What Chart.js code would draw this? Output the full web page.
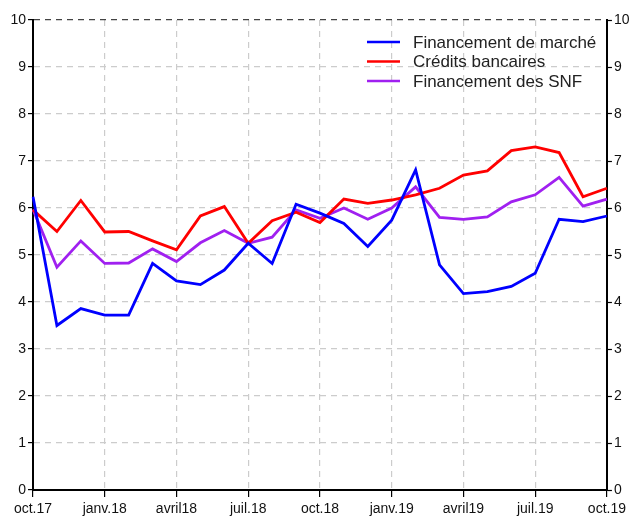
<!DOCTYPE html>
<html>
<head>
<meta charset="utf-8">
<script src="https://cdn.jsdelivr.net/npm/chart.js@4/dist/chart.umd.min.js"></script>
<style>
  html, body { margin: 0; padding: 0; background: #fff; }
  #wrap { width: 630px; height: 519px; }
</style>
</head>
<body>
<div id="wrap"><canvas id="myChart" width="630" height="519"></canvas></div>
<script>
// mois, oct.17 -> oct.19
var months = ["oct.17", "nov.17", "déc.17", "janv.18", "févr.18", "mars18", "avril18", "mai18", "juin18",
  "juil.18", "août18", "sept.18", "oct.18", "nov.18", "déc.18", "janv.19", "févr.19", "mars19",
  "avril19", "mai19", "juin19", "juil.19", "août19", "sept.19", "oct.19"];

var marche = [6.24, 3.50, 3.86, 3.72, 3.72, 4.82, 4.45, 4.37, 4.68, 5.25, 4.82, 6.08, 5.89,
  5.67, 5.18, 5.74, 6.81, 4.79, 4.18, 4.22, 4.33, 4.61, 5.76, 5.71, 5.83];
var credits = [5.96, 5.50, 6.16, 5.49, 5.50, 5.30, 5.11, 5.83, 6.03, 5.25, 5.73, 5.91, 5.69,
  6.19, 6.10, 6.17, 6.28, 6.42, 6.70, 6.79, 7.22, 7.30, 7.18, 6.24, 6.42];
var snf = [5.97, 4.74, 5.30, 4.82, 4.83, 5.13, 4.86, 5.26, 5.52, 5.25, 5.38, 5.96, 5.78,
  6.00, 5.76, 6.00, 6.45, 5.80, 5.76, 5.81, 6.13, 6.28, 6.65, 6.04, 6.19];

var yTicks = [0, 1, 2, 3, 4, 5, 6, 7, 8, 9, 10];

var FONT = "'Liberation Sans', Arial, sans-serif";

// legende dans le cadre, en haut a droite
var legendInside = {
  id: 'legendInside',
  afterDraw: function(chart) {
    var ctx = chart.ctx;
    ctx.save();
    ctx.font = "17px " + FONT;
    ctx.textBaseline = 'middle';
    chart.data.datasets.forEach(function(ds, i) {
      var y = 42 + i * 19.5;
      ctx.strokeStyle = ds.borderColor;
      ctx.lineWidth = 2.5;
      ctx.beginPath();
      ctx.moveTo(367, y);
      ctx.lineTo(400, y);
      ctx.stroke();
      ctx.fillStyle = '#222';
      ctx.fillText(ds.label, 413, y + 1);
    });
    ctx.restore();
  }
};

var ctx = document.getElementById("myChart").getContext('2d');
var chart = new Chart(ctx, {
  type: 'line',
  data: {
    labels: months,
    datasets: [{
      label: 'Financement de marché',
      data: marche,
      borderColor: '#0000ff',
      borderWidth: 2.8,
      pointRadius: 0,
      tension: 0
    }, {
      label: 'Crédits bancaires',
      data: credits,
      borderColor: '#ff0000',
      borderWidth: 2.8,
      pointRadius: 0,
      tension: 0
    }, {
      label: 'Financement des SNF',
      data: snf,
      borderColor: '#a020f0',
      borderWidth: 2.8,
      pointRadius: 0,
      tension: 0
    }]
  },
  options: {
    responsive: false,
    animation: false,
    layout: { padding: { top: 20, left: 0, right: 0, bottom: 0 } },
    plugins: {
      legend: { display: false },
      tooltip: { enabled: false }
    },
    scales: {
      x: {
        offset: false,
        grid: {
          color: function(c) { return c.index % 3 === 0 && c.index !== 0 && c.index !== 24 ? '#cccccc' : 'rgba(0,0,0,0)'; },
          tickColor: function(c) { return c.index % 3 === 0 ? '#000' : 'rgba(0,0,0,0)'; },
          lineWidth: 1.2,
          tickLength: 7,
          tickWidth: 1.2,
          tickBorderDash: []
        },
        border: { color: '#000', width: 2, dash: [6, 5] },
        ticks: {
          autoSkip: false,
          maxRotation: 0,
          padding: 4,
          color: '#111',
          font: { family: FONT, size: 14 },
          callback: function(v, i) { return i % 3 === 0 ? months[i] : ''; }
        },
        afterFit: function(s) { s.height = 29; }
      },
      y: {
        position: 'left',
        min: 0,
        max: 10,
        afterBuildTicks: function(s) { s.ticks = yTicks.map(function(v) { return { value: v }; }); },
        grid: {
          color: function(c) { return c.tick.value === 10 ? '#444' : (c.tick.value === 0 ? 'rgba(0,0,0,0)' : '#cccccc'); },
          tickColor: '#000',
          lineWidth: 1.2,
          tickLength: 5,
          tickWidth: 1.2,
          tickBorderDash: []
        },
        border: { color: '#000', width: 2, dash: [6, 5] },
        ticks: {
          padding: 2,
          color: '#111',
          font: { family: FONT, size: 14 }
        },
        afterFit: function(s) { s.width = 33; }
      },
      y2: {
        position: 'right',
        min: 0,
        max: 10,
        afterBuildTicks: function(s) { s.ticks = yTicks.map(function(v) { return { value: v }; }); },
        grid: {
          drawOnChartArea: false,
          tickColor: '#000',
          tickLength: 5,
          tickWidth: 1.2
        },
        border: { color: '#000', width: 2 },
        ticks: {
          padding: 2,
          color: '#111',
          font: { family: FONT, size: 14 }
        },
        afterFit: function(s) { s.width = 23; }
      }
    }
  },
  plugins: [legendInside]
});
</script>
</body>
</html>
